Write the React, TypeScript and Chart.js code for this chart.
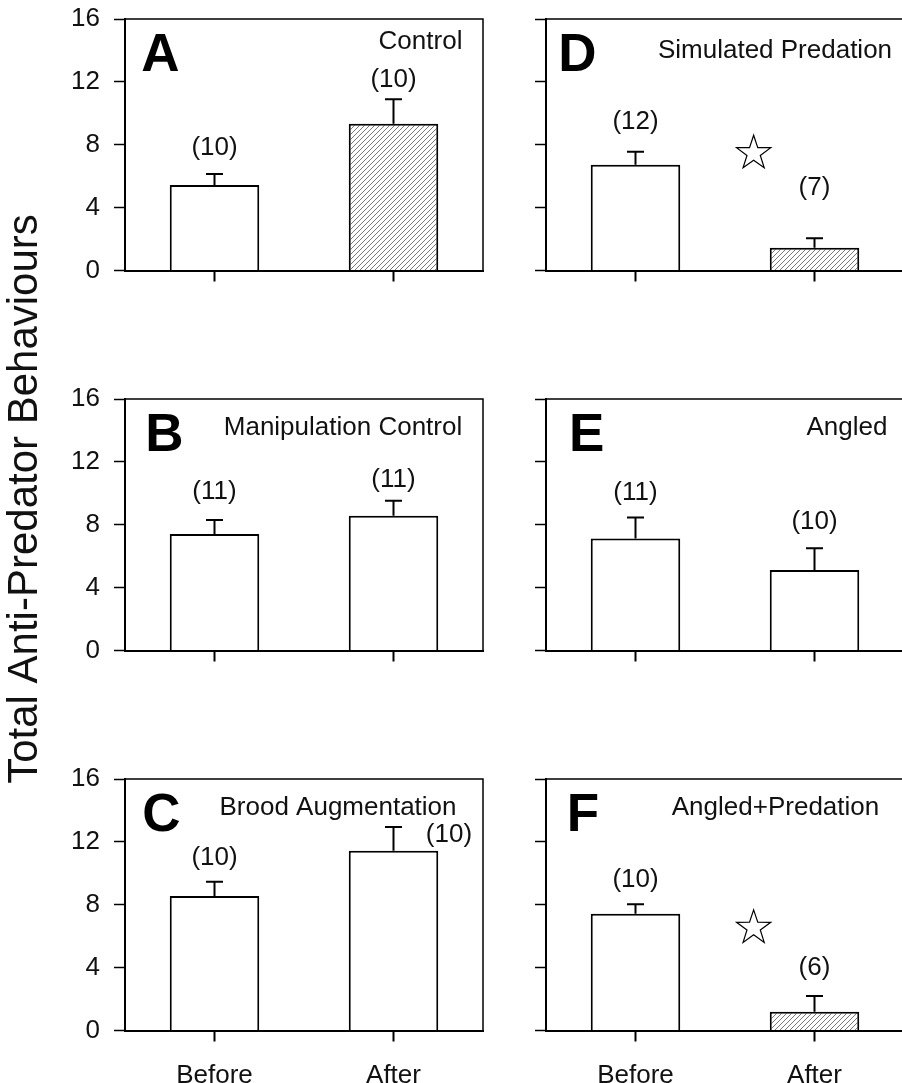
import React, { useEffect, useRef } from 'react';
import { Chart, registerables } from 'chart.js';

Chart.register(...registerables);

// ---------------- data ----------------
const categories = ['Before', 'After'];
const yTickValues = [0, 4, 8, 12, 16];
const yAxisTitle = 'Total Anti-Predator Behaviours';
const panelLetters = ['A', 'B', 'C', 'D', 'E', 'F'];
const panelTitles = ['Control', 'Manipulation Control', 'Brood Augmentation', 'Simulated Predation', 'Angled', 'Angled+Predation'];

const meansA = [5.44, 9.33];
const errorsA = [0.7, 1.57];
const sampleSizesA = [10, 10];
const hatchedA = [false, true];

const meansB = [7.41, 8.57];
const errorsB = [0.89, 0.95];
const sampleSizesB = [11, 11];
const hatchedB = [false, false];

const meansC = [8.55, 11.43];
const errorsC = [0.91, 1.52];
const sampleSizesC = [10, 10];
const hatchedC = [false, false];

const meansD = [6.73, 1.44];
const errorsD = [0.83, 0.61];
const sampleSizesD = [12, 7];
const hatchedD = [false, true];

const meansE = [7.13, 5.12];
const errorsE = [1.33, 1.38];
const sampleSizesE = [11, 10];
const hatchedE = [false, false];

const meansF = [7.43, 1.2];
const errorsF = [0.6, 1.0];
const sampleSizesF = [10, 6];
const hatchedF = [false, true];

const significant = [false, false, false, true, false, true];

// ---------------- layout ----------------
const CANVAS_W = 910;
const CANVAS_H = 1083;
const COL_LEFT = [125, 546];
const ROW_TOP = [19, 399, 779];
const PANEL_W = 358;
const PANEL_H = 251.5;
const YAXIS_W = 100;
const XAXIS_H = 40;
const FONT = '"Liberation Sans", Arial, Helvetica, sans-serif';
const TEXT = '#111';

const panelLayout = [
  { letterX: 35.5, titleX: 295.5, titleY: 23, countY: [7.78, 12.11], countX: [0, 1], star: null },
  { letterX: 39.5, titleX: 218, titleY: 29, countY: [10.09, 10.83], countX: [0, 1], star: null },
  { letterX: 36.5, titleX: 213, titleY: 29, countY: [10.99, 12.46], countX: [0, 1.31], star: null },
  { letterX: 31.5, titleX: 229, titleY: 31.8, countY: [9.43, 5.29], countX: [0, 1], star: [0.66, 7.46] },
  { letterX: 40.7, titleX: 301, titleY: 29, countY: [10.0, 8.18], countX: [0, 1], star: null },
  { letterX: 37, titleX: 229.5, titleY: 29, countY: [9.59, 3.98], countX: [0, 1], star: [0.66, 6.53] },
];

const panels = [
  { means: meansA, errors: errorsA, ns: sampleSizesA, hatched: hatchedA },
  { means: meansB, errors: errorsB, ns: sampleSizesB, hatched: hatchedB },
  { means: meansC, errors: errorsC, ns: sampleSizesC, hatched: hatchedC },
  { means: meansD, errors: errorsD, ns: sampleSizesD, hatched: hatchedD },
  { means: meansE, errors: errorsE, ns: sampleSizesE, hatched: hatchedE },
  { means: meansF, errors: errorsF, ns: sampleSizesF, hatched: hatchedF },
];

function makeHatch(): CanvasPattern | string {
  const s = 5;
  const c = document.createElement('canvas');
  c.width = s;
  c.height = s;
  const g = c.getContext('2d');
  if (!g) return '#ccc';
  g.fillStyle = '#fff';
  g.fillRect(0, 0, s, s);
  g.strokeStyle = '#555';
  g.lineWidth = 0.8;
  g.beginPath();
  g.moveTo(0, s);
  g.lineTo(s, 0);
  g.moveTo(-s, s);
  g.lineTo(s, -s);
  g.moveTo(0, 2 * s);
  g.lineTo(2 * s, 0);
  g.stroke();
  return g.createPattern(c, 'repeat') || '#ccc';
}

function drawStar(ctx: CanvasRenderingContext2D, cx: number, cy: number, R: number, r: number) {
  ctx.beginPath();
  for (let k = 0; k < 10; k++) {
    const a = -Math.PI / 2 + (k * Math.PI) / 5;
    const rad = k % 2 === 0 ? R : r;
    const x = cx + rad * Math.cos(a);
    const y = cy + rad * Math.sin(a);
    if (k === 0) ctx.moveTo(x, y);
    else ctx.lineTo(x, y);
  }
  ctx.closePath();
  ctx.stroke();
}

function makeChart(canvas: HTMLCanvasElement, idx: number, hatch: CanvasPattern | string) {
  const p = panels[idx];
  const lay = panelLayout[idx];
  const col = idx < 3 ? 0 : 1;
  const row = idx % 3;
  const left = COL_LEFT[col];
  const top = ROW_TOP[row];
  const right = left + PANEL_W;
  const bottom = top + PANEL_H;
  const isLeftCol = col === 0;
  const isBottomRow = row === 2;
  const xAxisH = isBottomRow ? CANVAS_H - bottom : XAXIS_H;

  const decor = {
    id: 'decor' + idx,
    afterDatasetsDraw(chart: any) {
      const ctx = chart.ctx as CanvasRenderingContext2D;
      const ys = chart.scales.y;
      const meta = chart.getDatasetMeta(0);
      ctx.save();
      ctx.strokeStyle = '#000';
      ctx.lineWidth = 2;
      meta.data.forEach((bar: any, i: number) => {
        const yTop = ys.getPixelForValue(p.means[i] + p.errors[i]);
        ctx.beginPath();
        ctx.moveTo(bar.x, bar.y);
        ctx.lineTo(bar.x, yTop);
        ctx.moveTo(bar.x - 8.5, yTop);
        ctx.lineTo(bar.x + 8.5, yTop);
        ctx.stroke();
      });
      ctx.restore();
    },
    afterDraw(chart: any) {
      const ctx = chart.ctx as CanvasRenderingContext2D;
      const a = chart.chartArea;
      const xs = chart.scales.x;
      const ys = chart.scales.y;
      ctx.save();
      // top & right frame
      ctx.strokeStyle = '#000';
      ctx.lineWidth = 1.5;
      ctx.beginPath();
      ctx.moveTo(a.left, a.top);
      ctx.lineTo(a.right, a.top);
      ctx.lineTo(a.right, a.bottom);
      ctx.stroke();

      // panel letter
      ctx.fillStyle = '#000';
      ctx.font = `bold 53px ${FONT}`;
      ctx.textAlign = 'center';
      ctx.textBaseline = 'alphabetic';
      ctx.fillText(panelLetters[idx], a.left + lay.letterX, a.top + 52);

      // panel title
      ctx.fillStyle = TEXT;
      ctx.font = `26px ${FONT}`;
      ctx.textBaseline = 'middle';
      ctx.fillText(panelTitles[idx], a.left + lay.titleX, a.top + lay.titleY);

      // sample sizes
      p.ns.forEach((n, i) => {
        const x = xs.getPixelForValue(lay.countX[i]);
        const y = ys.getPixelForValue(lay.countY[i]);
        ctx.fillText(`(${n})`, x, y);
      });

      // significance star
      if (significant[idx] && lay.star) {
        ctx.strokeStyle = '#000';
        ctx.lineWidth = 1.2;
        drawStar(ctx, xs.getPixelForValue(lay.star[0]), ys.getPixelForValue(lay.star[1]), 18, 7);
      }

      // shared y-axis title
      if (idx === 0) {
        ctx.save();
        ctx.translate(25, 499);
        ctx.rotate(-Math.PI / 2);
        ctx.fillStyle = TEXT;
        ctx.font = `42px ${FONT}`;
        ctx.textAlign = 'center';
        ctx.textBaseline = 'middle';
        ctx.fillText(yAxisTitle, 0, 0);
        ctx.restore();
      }
      ctx.restore();
    },
  };

  return new Chart(canvas, {
    type: 'bar',
    data: {
      labels: categories,
      datasets: [
        {
          data: p.means,
          backgroundColor: p.hatched.map((h) => (h ? hatch : '#ffffff')) as any,
          borderColor: '#000',
          borderWidth: 2,
          barPercentage: 0.5,
          categoryPercentage: 1,
        },
      ],
    },
    options: {
      animation: false,
      responsive: false,
      events: [],
      layout: {
        padding: {
          left: left - YAXIS_W,
          top: top,
          right: CANVAS_W - right,
          bottom: CANVAS_H - bottom - xAxisH,
        },
      },
      plugins: {
        legend: { display: false },
        tooltip: { enabled: false },
        title: { display: false },
      },
      scales: {
        x: {
          type: 'category',
          offset: true,
          z: 1,
          grid: {
            display: true,
            drawOnChartArea: false,
            drawTicks: true,
            tickLength: 11,
            tickWidth: 2,
            tickColor: '#000',
            offset: false,
          },
          border: { display: true, color: '#000', width: 2 },
          ticks: {
            display: isBottomRow,
            color: TEXT,
            font: { family: FONT, size: 26 },
            padding: 19,
            maxRotation: 0,
            autoSkip: false,
          },
          afterFit: (s: any) => {
            s.height = xAxisH;
            s.paddingLeft = 0;
            s.paddingRight = 0;
          },
        } as any,
        y: {
          type: 'linear',
          min: 0,
          max: 16,
          z: 1,
          afterBuildTicks: (s: any) => {
            s.ticks = yTickValues.map((v) => ({ value: v }));
          },
          grid: {
            display: true,
            drawOnChartArea: false,
            drawTicks: true,
            tickLength: 11,
            tickWidth: 1.5,
            tickColor: '#000',
          },
          border: { display: true, color: '#000', width: 2 },
          ticks: {
            display: isLeftCol,
            color: TEXT,
            font: { family: FONT, size: 26 },
            padding: 14,
          },
          afterFit: (s: any) => {
            s.width = YAXIS_W;
            s.paddingTop = 0;
            s.paddingBottom = 0;
          },
        } as any,
      },
    },
    plugins: [decor],
  });
}

export default function App() {
  const refs = useRef<(HTMLCanvasElement | null)[]>([]);

  useEffect(() => {
    const hatch = makeHatch();
    const charts = panels.map((_, i) => makeChart(refs.current[i] as HTMLCanvasElement, i, hatch));
    return () => {
      charts.forEach((c) => c.destroy());
    };
  }, []);

  return (
    <div
      style={{
        position: 'fixed',
        left: 0,
        top: 0,
        width: 902,
        height: 1083,
        overflow: 'hidden',
        background: '#fff',
      }}
    >
      {panels.map((_, i) => (
        <canvas
          key={i}
          ref={(el) => {
            refs.current[i] = el;
          }}
          width={CANVAS_W}
          height={CANVAS_H}
          style={{ position: 'absolute', left: 0, top: 0, width: CANVAS_W, height: CANVAS_H }}
        />
      ))}
    </div>
  );
}
